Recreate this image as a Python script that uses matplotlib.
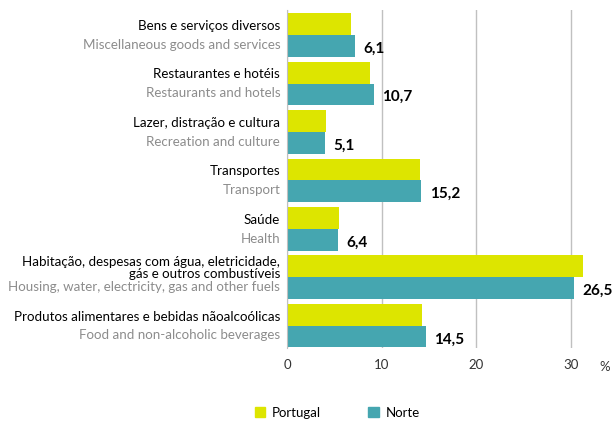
import matplotlib
matplotlib.use("Agg")
import matplotlib.pyplot as plt
import matplotlib.transforms as mtransforms
from matplotlib.patches import Patch
import numpy as np

plt.rcParams['font.family'] = ['Lato', 'DejaVu Sans']

labels_pt = ["Bens e serviços diversos", "Restaurantes e hotéis",
             "Lazer, distração e cultura", "Transportes", "Saúde",
             "Habitação, despesas com água, eletricidade,\ngás e outros combustíveis",
             "Produtos alimentares e bebidas nãoalcoólicas"]
labels_en = ["Miscellaneous goods and services", "Restaurants and hotels",
             "Recreation and culture", "Transport", "Health",
             "Housing, water, electricity, gas and other fuels",
             "Food and non-alcoholic beverages"]
portugal = [6.8, 8.8, 4.1, 14.1, 5.5, 31.3, 14.3]
norte = [7.2, 9.2, 4.0, 14.2, 5.4, 30.4, 14.7]
norte_labels = ["6,1", "10,7", "5,1", "15,2", "6,4", "26,5", "14,5"]

c_pt = "#dde500"
c_no = "#45a6b0"

fig = plt.figure(figsize=(6.12, 4.22), dpi=100)
ax = fig.add_axes([0.469, 0.1754, 0.5098, 0.801])

y = np.arange(len(portugal))
h = 0.45
ax.barh(y - h / 2, portugal, height=h, color=c_pt, zorder=2)
ax.barh(y + h / 2, norte, height=h, color=c_no, zorder=2)

for yi, v, s in zip(y, norte, norte_labels):
    ax.annotate(s, (v, yi + h / 2), xytext=(6, -2), textcoords="offset points",
                ha="left", va="center", fontsize=11, fontweight="bold", color="black")

trans = mtransforms.blended_transform_factory(ax.transAxes, ax.transData)
for yi, pt, en in zip(y, labels_pt, labels_en):
    ax.text(-0.022, yi - 0.19, pt, transform=trans, ha="right", va="center",
            fontsize=9.6, color="black", linespacing=1.0)
    ax.text(-0.022, yi + 0.2, en, transform=trans, ha="right", va="center",
            fontsize=9.6, color="#8c8c8c")

ax.set_xlim(0, 33)
ax.set_ylim(6.46, -0.52)
ax.set_xticks([0, 10, 20, 30])
ax.set_yticks([])
ax.tick_params(axis="x", length=0, pad=8, labelsize=9.5, labelcolor="#333333")
ax.grid(axis="x", color="#c0c0c0", linewidth=1, zorder=0)
for side in ["top", "right", "bottom"]:
    ax.spines[side].set_visible(False)
ax.spines["left"].set_color("#c0c0c0")
ax.spines["left"].set_zorder(3)

fig.text(605 / 612, 1 - 367 / 422, "%", ha="center", va="center", fontsize=9.5, color="#333333")

handles = [Patch(color=c_pt, label="Portugal"), Patch(color=c_no, label="Norte")]
fig.legend(handles=handles, loc="center", bbox_to_anchor=(0.551, 0.022), ncol=2,
           frameon=False, fontsize=9.5, handlelength=0.8, handleheight=0.8,
           columnspacing=3.6, handletextpad=0.5)

plt.savefig("out.png", dpi=100)
